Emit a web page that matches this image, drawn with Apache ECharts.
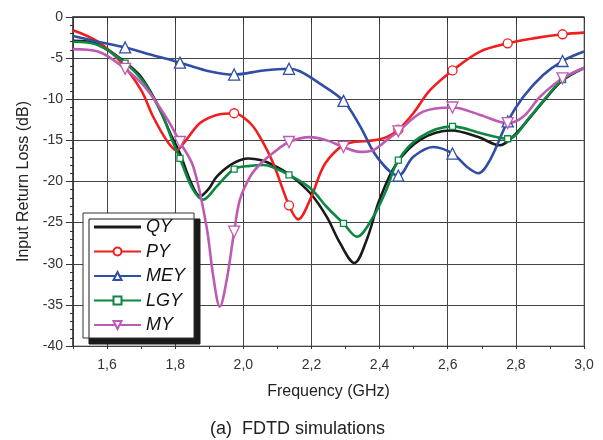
<!DOCTYPE html>
<html>
<head>
<meta charset="utf-8">
<script src="https://cdn.jsdelivr.net/npm/echarts@6/dist/echarts.min.js"></script>
<style>
  html, body { margin: 0; padding: 0; background: #fff; }
  #chart { width: 603px; height: 440px; }
</style>
</head>
<body>
<div id="chart"></div>
<script>
// 曲线数据 [频率 GHz, 回波损耗 dB]
const qy = [
  [1.50, -2.9], [1.573, -3.3], [1.653, -5.5], [1.70, -7.3], [1.75, -10.8], [1.785, -14.1],
  [1.814, -16.6], [1.845, -20.0], [1.873, -21.8], [1.90, -20.8], [1.922, -19.4], [1.97, -17.8],
  [2.015, -17.2], [2.05, -17.4], [2.088, -18.0], [2.137, -19.2], [2.196, -21.4], [2.245, -24.3],
  [2.284, -27.5], [2.326, -29.9], [2.362, -27.1], [2.40, -22.2], [2.45, -17.8], [2.52, -14.9],
  [2.61, -13.8], [2.69, -14.6], [2.753, -15.6], [2.79, -14.6], [2.84, -12.3], [2.89, -9.8],
  [2.937, -7.7], [3.0, -6.2]
];
const py = [
  [1.50, -1.6], [1.573, -3.0], [1.643, -5.6], [1.70, -8.9], [1.735, -12.1], [1.775, -15.0],
  [1.804, -16.2], [1.824, -15.4], [1.873, -12.9], [1.922, -11.9], [1.973, -11.7], [2.02, -12.9],
  [2.049, -14.6], [2.088, -17.8], [2.134, -22.9], [2.161, -24.6], [2.196, -22.2], [2.235, -18.2],
  [2.274, -16.2], [2.313, -15.3], [2.381, -15.0], [2.42, -14.6], [2.455, -13.7], [2.499, -11.7],
  [2.548, -8.9], [2.614, -6.5], [2.695, -4.2], [2.776, -3.2], [2.851, -2.6], [2.937, -2.1],
  [3.0, -1.9]
];
const mey = [
  [1.50, -2.3], [1.573, -3.0], [1.653, -3.7], [1.73, -4.6], [1.814, -5.55], [1.89, -6.5],
  [1.973, -7.0], [2.059, -6.5], [2.134, -6.3], [2.166, -6.6], [2.225, -8.1], [2.294, -10.2],
  [2.343, -13.3], [2.392, -17.0], [2.455, -19.3], [2.499, -17.0], [2.558, -15.8], [2.614, -16.6],
  [2.656, -18.2], [2.69, -19.0], [2.724, -17.4], [2.776, -12.7], [2.822, -9.7], [2.88, -7.05],
  [2.937, -5.35], [3.0, -4.2]
];
const lgy = [
  [1.50, -3.0], [1.573, -3.4], [1.653, -5.6], [1.711, -8.1], [1.764, -12.1], [1.794, -15.3],
  [1.814, -17.2], [1.85, -20.8], [1.882, -22.2], [1.922, -20.6], [1.973, -18.5], [2.02, -18.1],
  [2.06, -18.0], [2.088, -18.3], [2.134, -19.2], [2.196, -20.8], [2.245, -23.1], [2.294, -25.1],
  [2.333, -26.7], [2.381, -24.3], [2.42, -21.0], [2.455, -17.4], [2.519, -14.6], [2.614, -13.3],
  [2.695, -14.1], [2.776, -14.8], [2.842, -12.1], [2.89, -9.7], [2.937, -7.6], [3.0, -6.2]
];
const my = [
  [1.50, -3.9], [1.573, -4.2], [1.653, -6.3], [1.711, -8.5], [1.775, -12.3], [1.814, -15.2],
  [1.853, -18.2], [1.892, -25.5], [1.912, -31.6], [1.931, -35.2], [1.951, -32.0], [1.973, -26.1],
  [1.99, -22.2], [2.02, -19.4], [2.049, -17.9], [2.088, -16.5], [2.134, -15.2], [2.196, -14.6],
  [2.245, -15.0], [2.294, -15.8], [2.343, -16.4], [2.381, -16.2], [2.42, -15.0], [2.455, -13.9],
  [2.528, -11.5], [2.614, -11.0], [2.695, -11.9], [2.776, -12.9], [2.822, -12.1], [2.871, -9.7],
  [2.937, -7.45], [3.0, -6.2]
];

// 标记点所在的频率
const pyMarks = [1.973, 2.134, 2.455, 2.614, 2.776, 2.937];
const meyMarks = [1.653, 1.814, 1.973, 2.134, 2.294, 2.455, 2.614, 2.776, 2.937];
const lgyMarks = [1.653, 1.814, 1.973, 2.134, 2.294, 2.455, 2.614, 2.776, 2.937];
const myMarks = [1.653, 1.814, 1.973, 2.134, 2.294, 2.455, 2.614, 2.776, 2.937];

const names = ["QY", "PY", "MEY", "LGY", "MY"];

const font = "'Liberation Sans', Arial, sans-serif";

const withMarks = (pts, marks) =>
  pts.map((p) => (marks.includes(p[0]) ? { value: p } : { value: p, symbol: "none" }));

const makeLine = (name, pts, marks, color, symbol, size, rotate) => ({
  name: name,
  type: "line",
  smooth: 0.35,
  data: withMarks(pts, marks),
  symbol: symbol,
  symbolSize: size,
  symbolRotate: rotate || 0,
  lineStyle: { color: color, width: 2.6 },
  itemStyle: { color: "#fff", borderColor: color, borderWidth: 1.3 },
  emphasis: { disabled: true },
});

const chart = echarts.init(document.getElementById("chart"));

// 图例：QY 只有线，没有标记
const legendData = names.map((n) =>
  n === "QY" ? { name: n, icon: "path://M0,0H47V3H0Z" } : { name: n }
);

const options = {
  animation: false,
  textStyle: { fontFamily: font },
  title: {
    text: "(a)  FDTD simulations",
    left: 205,
    top: 415,
    textStyle: { fontSize: 18, fontWeight: "normal", color: "#222", fontFamily: font },
  },
  grid: {
    left: 73,
    right: 19,
    top: 17,
    bottom: 94,
    show: true,
    borderColor: "#888",
    borderWidth: 1,
  },
  legend: {
    orient: "vertical",
    left: 83,
    top: 213,
    data: legendData,
    itemWidth: 47,
    itemHeight: 10,
    itemGap: 6.5,
    padding: [5, 9, 4, 10],
    backgroundColor: "#fff",
    borderColor: "#333",
    borderWidth: 1,
    shadowColor: "#1a1a1a",
    shadowBlur: 0,
    shadowOffsetX: 6,
    shadowOffsetY: 6,
    textStyle: { fontSize: 18, fontStyle: "italic", color: "#111", fontFamily: font },
  },
  xAxis: [
    {
      type: "value",
      min: 1.5,
      max: 3.0,
      splitNumber: 7,
      name: "Frequency (GHz)",
      nameLocation: "middle",
      nameGap: 38,
      nameTextStyle: { fontSize: 16, color: "#222", fontFamily: font },
      axisLine: { lineStyle: { color: "#333", width: 1.5 } },
      axisTick: { length: 6, lineStyle: { color: "#333" } },
      axisLabel: {
        fontSize: 14,
        color: "#333",
        margin: 12,
        showMinLabel: false,
        formatter: (v) => v.toFixed(1).replace(".", ","),
      },
      splitLine: { show: true, lineStyle: { color: "#444", width: 1 } },
    },
    {
      // 次刻度
      type: "value",
      min: 1.5,
      max: 3.0,
      interval: 0.1,
      position: "bottom",
      axisLine: { show: false },
      axisTick: { length: 3, lineStyle: { color: "#333" } },
      axisLabel: { show: false },
      splitLine: { show: false },
    },
  ],
  yAxis: {
    type: "value",
    min: -40,
    max: 0,
    interval: 5,
    name: "Input Return Loss (dB)",
    nameLocation: "middle",
    nameGap: 37,
    nameTextStyle: { fontSize: 16, color: "#222", fontFamily: font },
    axisLine: { show: true, lineStyle: { color: "#333", width: 1.5 } },
    axisTick: { length: 7, lineStyle: { color: "#333" } },
    minorTick: { show: true, splitNumber: 5, length: 3, lineStyle: { color: "#333" } },
    axisLabel: { fontSize: 14, color: "#333", margin: 10 },
    splitLine: { show: true, lineStyle: { color: "#444", width: 1 } },
  },
  series: [
    {
      name: "QY",
      type: "line",
      smooth: 0.35,
      data: qy,
      symbol: "none",
      lineStyle: { color: "#1a1a1a", width: 2.6 },
      itemStyle: { color: "#1a1a1a" },
      emphasis: { disabled: true },
    },
    makeLine("PY", py, pyMarks, "#f01e1e", "circle", 9),
    makeLine("MEY", mey, meyMarks, "#2f4ea4", "triangle", 11),
    makeLine("LGY", lgy, lgyMarks, "#0b8842", "rect", 6),
    makeLine("MY", my, myMarks, "#bf5ab4", "triangle", 11, 180),
  ],
};

chart.setOption(options);

window.addEventListener("resize", () => {
  chart.resize();
});
</script>
</body>
</html>
